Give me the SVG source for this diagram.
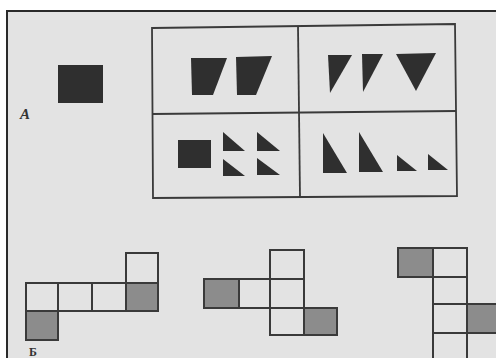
<svg xmlns="http://www.w3.org/2000/svg" width="496" height="358" viewBox="0 0 496 358">
<style>
.bg{fill:#e3e3e3}
.frame{fill:none;stroke:#2a2a2a;stroke-width:2}
.box{fill:none;stroke:#3a3a3a;stroke-width:1.8}
.dark{fill:#2f2f2f}
.cell{fill:none;stroke:#3a3a3a;stroke-width:2}
.shade{fill:#8c8c8c;stroke:#3a3a3a;stroke-width:2}
.lbl{font-family:"Liberation Serif",serif;font-style:italic;font-weight:bold;font-size:15px;fill:#333}
</style>
<rect width="496" height="358" fill="#ffffff"/>
<rect class="bg" x="7" y="11" width="489" height="347"/>
<polyline class="frame" points="7,358 7,11 496,11"/>
<g id="label-A"><text class="lbl" x="20" y="119">A</text></g>
<g id="sample-square"><rect class="dark" x="58" y="65" width="45" height="38"/></g>
<g id="options-box">
<polygon class="box" points="152,28 455,24 457,196 153,198"/>
<line class="box" x1="298" y1="26" x2="300" y2="197"/>
<line class="box" x1="152" y1="114" x2="456" y2="111"/>
</g>
<g id="cell-1">
<polygon class="dark" points="191,58 227,58 213,95 192,95"/>
<polygon class="dark" points="236,57 272,56 256,95 237,95"/>
</g>
<g id="cell-2">
<polygon class="dark" points="328,55 352,55 330,93"/>
<polygon class="dark" points="362,54 383,54 363,92"/>
<polygon class="dark" points="396,54 436,53 416,91"/>
</g>
<g id="cell-3">
<rect class="dark" x="178" y="140" width="33" height="28"/>
<polygon class="dark" points="223,132 245,151 223,151"/>
<polygon class="dark" points="257,132 280,151 257,151"/>
<polygon class="dark" points="223,159 245,176 223,176"/>
<polygon class="dark" points="257,158 280,175 257,175"/>
</g>
<g id="cell-4">
<polygon class="dark" points="323,133 347,173 323,173"/>
<polygon class="dark" points="359,132 383,172 359,172"/>
<polygon class="dark" points="397,155 417,171 397,171"/>
<polygon class="dark" points="428,154 448,170 428,170"/>
</g>
<g id="net-1">
<rect class="cell" x="26" y="283" width="32" height="28"/>
<rect class="cell" x="58" y="283" width="34" height="28"/>
<rect class="cell" x="92" y="283" width="34" height="28"/>
<rect class="shade" x="126" y="283" width="32" height="28"/>
<rect class="cell" x="126" y="253" width="32" height="30"/>
<rect class="shade" x="26" y="311" width="32" height="29"/>
</g>
<g id="net-2">
<rect class="cell" x="270" y="250" width="34" height="29"/>
<rect class="cell" x="270" y="279" width="34" height="29"/>
<rect class="cell" x="270" y="308" width="34" height="27"/>
<rect class="shade" x="204" y="279" width="35" height="29"/>
<rect class="cell" x="239" y="279" width="31" height="29"/>
<rect class="shade" x="304" y="308" width="33" height="27"/>
</g>
<g id="net-3">
<rect class="shade" x="398" y="248" width="35" height="29"/>
<rect class="cell" x="433" y="248" width="34" height="29"/>
<rect class="cell" x="433" y="277" width="34" height="27"/>
<rect class="cell" x="433" y="304" width="34" height="29"/>
<rect class="cell" x="433" y="333" width="34" height="30"/>
<rect class="shade" x="467" y="304" width="34" height="29"/>
</g>
<g id="label-B"><text class="lbl" x="29" y="356" style="font-style:normal;font-size:12px">Б</text></g>
</svg>
